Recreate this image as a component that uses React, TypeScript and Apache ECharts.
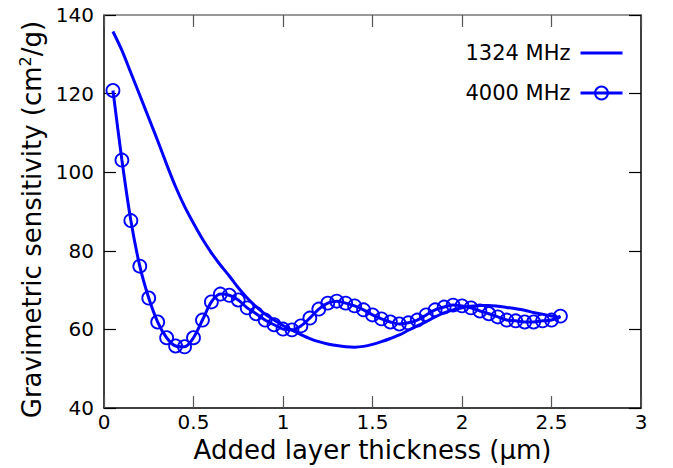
import React, { useEffect, useRef } from "react";
import * as echarts from "echarts";

const xTicks = [0, 0.5, 1, 1.5, 2, 2.5, 3];

const x1324 = [0.05, 0.1, 0.15, 0.2, 0.25, 0.3, 0.35, 0.4, 0.45, 0.5, 0.55, 0.6, 0.65, 0.7, 0.75, 0.8, 0.85, 0.9, 0.95, 1.0, 1.05, 1.1, 1.15, 1.2, 1.25, 1.3, 1.35, 1.4, 1.45, 1.5, 1.55, 1.6, 1.65, 1.7, 1.75, 1.8, 1.85, 1.9, 1.95, 2.0, 2.05, 2.1, 2.15, 2.2, 2.25, 2.3, 2.35, 2.4, 2.45, 2.5, 2.55];
const y1324 = [135.8, 131.0, 125.3, 119.6, 113.8, 108.0, 102.0, 96.3, 91.3, 87.0, 83.0, 79.5, 76.4, 73.6, 70.6, 68.0, 65.8, 63.9, 62.4, 61.0, 59.8, 58.7, 57.7, 56.9, 56.3, 55.9, 55.6, 55.5, 55.7, 56.2, 56.9, 57.7, 58.6, 59.8, 60.9, 62.0, 63.2, 64.2, 65.0, 65.5, 65.9, 66.1, 66.1, 65.9, 65.6, 65.3, 64.9, 64.3, 63.9, 63.4, 63.0];

const x4000 = [0.05, 0.1, 0.15, 0.2, 0.25, 0.3, 0.35, 0.4, 0.45, 0.5, 0.55, 0.6, 0.65, 0.7, 0.75, 0.8, 0.85, 0.9, 0.95, 1.0, 1.05, 1.1, 1.15, 1.2, 1.25, 1.3, 1.35, 1.4, 1.45, 1.5, 1.55, 1.6, 1.65, 1.7, 1.75, 1.8, 1.85, 1.9, 1.95, 2.0, 2.05, 2.1, 2.15, 2.2, 2.25, 2.3, 2.35, 2.4, 2.45, 2.5, 2.55];
const y4000 = [120.8, 103.1, 87.7, 76.1, 68.0, 61.9, 57.9, 55.8, 55.6, 57.9, 62.4, 67.0, 69.0, 68.7, 67.5, 65.5, 64.0, 62.4, 61.2, 60.1, 59.9, 60.9, 62.9, 65.2, 66.7, 67.2, 66.7, 66.0, 65.0, 63.7, 62.7, 61.9, 61.4, 61.7, 62.4, 63.7, 65.0, 65.7, 66.2, 66.0, 65.5, 64.7, 64.0, 63.2, 62.4, 62.2, 61.9, 61.9, 62.2, 62.4, 63.4];

const FONT = "DejaVu Sans";
const BLUE = "#0000ff";

export default function App() {
  const ref = useRef<HTMLDivElement>(null);
  useEffect(() => {
    if (!ref.current) return;
    const chart = echarts.init(ref.current, null, { renderer: "svg" });
    const tickStyle = { show: true, inside: true, length: 12, lineStyle: { color: "#555", width: 1.2 } };
    chart.setOption({
      animation: false,
      backgroundColor: "#fff",
      textStyle: { fontFamily: FONT },
      grid: { left: 104, right: 32, top: 15, bottom: 57, containLabel: false },
      legend: {
        orient: "vertical",
        right: 49,
        top: 40,
        padding: 0,
        align: "right",
        itemWidth: 42,
        itemHeight: 16,
        itemGap: 14,
        textStyle: { fontFamily: FONT, fontSize: 21, color: "#000", lineHeight: 26, padding: [0, 5, 0, 0] },
        data: [
          { name: "1324 MHz", itemStyle: { color: "rgba(0,0,0,0)", borderWidth: 0, opacity: 0 }, lineStyle: { width: 3 } },
          { name: "4000 MHz", lineStyle: { width: 3 } },
        ],
      },
      xAxis: [
        {
          type: "value",
          min: 0,
          max: 3,
          interval: 0.5,
          position: "bottom",
          name: "Added layer thickness (μm)",
          nameLocation: "middle",
          nameGap: 26,
          nameTextStyle: { fontFamily: FONT, fontSize: 26, color: "#000" },
          axisLine: { show: true, onZero: false, lineStyle: { color: "#000", width: 1.5 } },
          axisTick: tickStyle,
          axisLabel: {
            fontFamily: FONT,
            fontSize: 20,
            color: "#000",
            margin: 4,
            formatter: (v: number) => (xTicks.includes(v) ? String(v) : ""),
          },
          splitLine: { show: false },
        },
        {
          type: "value",
          min: 0,
          max: 3,
          interval: 0.5,
          position: "top",
          axisLine: { show: true, onZero: false, lineStyle: { color: "#777", width: 1.5 } },
          axisTick: tickStyle,
          axisLabel: { show: false },
          splitLine: { show: false },
        },
      ],
      yAxis: [
        {
          type: "value",
          min: 40,
          max: 140,
          interval: 20,
          position: "left",
          name: "{a|Gravimetric sensitivity (cm}{s|2}{a|/g)}",
          nameLocation: "middle",
          nameGap: 50,
          nameRotate: 90,
          nameTextStyle: {
            fontFamily: FONT,
            color: "#000",
            padding: [0, 16, 0, 0],
            rich: {
              a: { fontFamily: FONT, fontSize: 26, color: "#000" },
              s: { fontFamily: FONT, fontSize: 16, color: "#000", verticalAlign: "top", padding: [0, 0, 12, 0] },
            },
          },
          axisLine: { show: true, onZero: false, lineStyle: { color: "#000", width: 1.5 } },
          axisTick: { ...tickStyle, lineStyle: { color: "#000", width: 1.2 } },
          axisLabel: { fontFamily: FONT, fontSize: 20, color: "#000", margin: 10 },
          splitLine: { show: false },
        },
        {
          type: "value",
          min: 40,
          max: 140,
          interval: 20,
          position: "right",
          axisLine: { show: true, onZero: false, lineStyle: { color: "#000", width: 1.5 } },
          axisTick: { ...tickStyle, lineStyle: { color: "#000", width: 1.2 } },
          axisLabel: { show: false },
          splitLine: { show: false },
        },
      ],
      series: [
        {
          name: "1324 MHz",
          type: "line",
          xAxisIndex: 0,
          yAxisIndex: 0,
          data: x1324.map((x, i) => [x, y1324[i]]),
          smooth: 0.3,
          showSymbol: false,
          symbol: "none",
          lineStyle: { color: BLUE, width: 3 },
          itemStyle: { color: BLUE },
        },
        {
          name: "4000 MHz",
          type: "line",
          xAxisIndex: 0,
          yAxisIndex: 0,
          data: x4000.map((x, i) => [x, y4000[i]]),
          smooth: 0.3,
          symbol: "circle",
          symbolSize: 13,
          showAllSymbol: true,
          lineStyle: { color: BLUE, width: 3 },
          itemStyle: { color: "rgba(0,0,0,0)", borderColor: BLUE, borderWidth: 1.8 },
        },
      ],
    });
    return () => chart.dispose();
  }, []);
  return <div ref={ref} style={{ width: 673, height: 468, position: "absolute", left: 0, top: 0 }} />;
}
